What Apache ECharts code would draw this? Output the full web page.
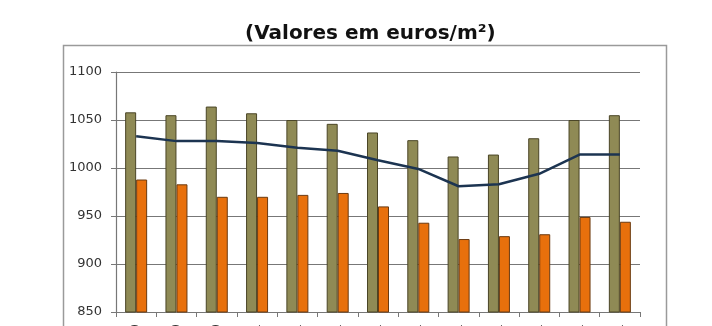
<!DOCTYPE html>
<html>
<head>
<meta charset="utf-8">
<script src="https://cdn.jsdelivr.net/npm/echarts@6/dist/echarts.min.js"></script>
<style>
  html, body { margin: 0; padding: 0; background: #ffffff; }
  #chart { width: 712px; height: 326px; }
</style>
</head>
<body>
<div id="chart"></div>
<script>
// Period labels along the x axis
const categories = ['Out-10', 'Nov-10', 'Dez-10', 'Jan-11', 'Fev-11', 'Mar-11', 'Abr-11',
                    'Mai-11', 'Jun-11', 'Jul-11', 'Ago-11', 'Set-11', 'Out-11'];
// Olive bars
const moradias = [1058, 1055, 1064, 1057, 1050, 1046, 1037, 1029, 1012, 1014, 1031, 1050, 1055];
// Orange bars
const apartamentos = [988, 983, 970, 970, 972, 974, 960, 943, 926, 929, 931, 949, 944];
// Dark line
const total = [1033, 1028, 1028, 1026, 1021, 1018, 1008, 999, 981, 983, 994, 1014, 1014];

const chart = echarts.init(document.getElementById('chart'));
chart.setOption({
  animation: false,
  backgroundColor: '#ffffff',
  title: {
    text: '(Valores em euros/m²)',
    left: 240,
    top: 19,
    textStyle: { fontFamily: 'DejaVu Sans', fontWeight: 'bold', fontSize: 20, color: '#111111' }
  },
  graphic: [{
    type: 'rect',
    shape: { x: 63.5, y: 45.5, width: 603, height: 300 },
    style: { fill: 'none', stroke: '#9a9a9a', lineWidth: 1.5 },
    z: 0
  }],
  grid: { left: 116, right: 72, top: 72, height: 240, containLabel: false, outerBoundsMode: 'none' },
  xAxis: {
    type: 'category',
    data: categories,
    boundaryGap: true,
    axisLine: { lineStyle: { color: '#777777', width: 1.2 } },
    axisTick: { show: true, inside: false, length: 5, lineStyle: { color: '#777777' } },
    axisLabel: { interval: 0, rotate: 90, margin: 12, fontFamily: 'DejaVu Sans', fontSize: 12, color: '#333333' }
  },
  yAxis: {
    type: 'value',
    min: 850, max: 1100, interval: 50,
    axisLine: { show: true, lineStyle: { color: '#777777', width: 1.2 } },
    axisTick: { show: true, length: 5, lineStyle: { color: '#777777' } },
    axisLabel: {
      margin: 14, fontFamily: 'DejaVu Sans', fontSize: 13, color: '#333333',
      formatter: function (v) { return String(v); }
    },
    splitLine: { lineStyle: { color: '#777777', width: 1.2 } }
  },
  series: [
    {
      name: 'Moradias', type: 'bar', data: moradias,
      barWidth: 11, barGap: '0%',
      itemStyle: { color: '#8f8a55', borderColor: '#4a4526', borderWidth: 1 }
    },
    {
      name: 'Apartamentos', type: 'bar', data: apartamentos,
      barWidth: 11,
      itemStyle: { color: '#e8700c', borderColor: '#6b3a10', borderWidth: 1 }
    },
    {
      name: 'Total', type: 'line', data: total,
      symbol: 'none',
      lineStyle: { color: '#1c3451', width: 2.5 },
      z: 5
    }
  ]
});
</script>
</body>
</html>
